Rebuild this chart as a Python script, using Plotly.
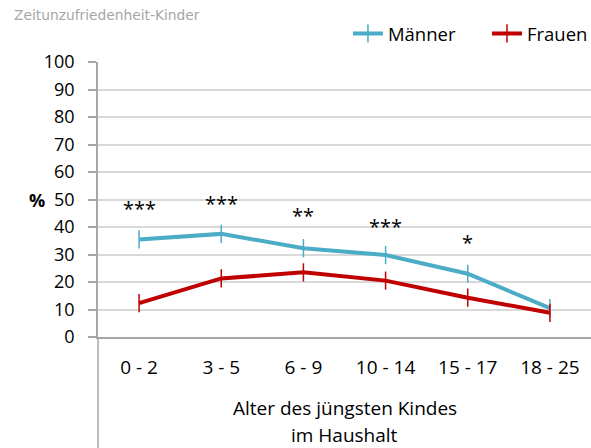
import plotly.graph_objects as go

# Daten
kategorien = ["0 - 2", "3 - 5", "6 - 9", "10 - 14", "15 - 17", "18 - 25"]
maenner = [35.5, 37.5, 32.3, 29.8, 23.0, 10.5]
frauen = [12.3, 21.3, 23.5, 20.5, 14.3, 8.8]
sterne = ["***", "***", "**", "***", "*", ""]
sterne_y = [46.7, 48.7, 44.2, 40.3, 34.5, None]
y_ticks = [0, 10, 20, 30, 40, 50, 60, 70, 80, 90, 100]

FONT = "Open Sans, Lato, sans-serif"

fig = go.Figure()
fig.add_trace(go.Scatter(
    x=kategorien, y=maenner, name="Männer", mode="lines+markers",
    line=dict(color="#4bacc6", width=4), legend="legend",
    marker=dict(symbol="line-ns-open", size=13, line=dict(color="#4bacc6", width=1.5)),
))
fig.add_trace(go.Scatter(
    x=kategorien, y=frauen, name="Frauen", mode="lines+markers",
    line=dict(color="#c00000", width=4), legend="legend2",
    marker=dict(symbol="line-ns-open", size=13, line=dict(color="#c00000", width=1.5)),
))

for k, s, y in zip(kategorien, sterne, sterne_y):
    if s:
        fig.add_annotation(x=k, y=y, text=s, showarrow=False,
                           font=dict(size=20, color="black", family=FONT))

# Achsentitel
fig.add_annotation(x=-0.144, y=50, xref="paper", yref="y", text="<b>%</b>",
                   showarrow=False, font=dict(size=18, color="black", family=FONT))
fig.add_annotation(x=0.5, y=-0.258, xref="paper", yref="paper", yanchor="middle",
                   text="Alter des jüngsten Kindes", showarrow=False,
                   font=dict(size=19, color="black", family=FONT))
fig.add_annotation(x=0.5, y=-0.358, xref="paper", yref="paper", yanchor="middle",
                   text="im Haushalt", showarrow=False,
                   font=dict(size=19, color="black", family=FONT))
fig.add_annotation(x=-0.174, y=1.171, xref="paper", yref="paper",
                   xanchor="left", yanchor="middle", text="Zeitunzufriedenheit-Kinder",
                   showarrow=False, font=dict(size=13.8, color="#a6a6a6", family="DejaVu Sans"))

# verlängerte Achsenlinie
fig.add_shape(type="line", xref="paper", yref="paper", x0=0, x1=0, y0=0, y1=-0.41,
              line=dict(color="#a6a6a6", width=1.5))

leg = dict(orientation="h", y=1.102, xanchor="left", yanchor="middle",
           font=dict(size=18.5), itemwidth=30, bgcolor="rgba(0,0,0,0)")

fig.update_layout(
    width=591, height=448,
    margin=dict(l=98, r=0, t=62, b=111, autoexpand=False),
    paper_bgcolor="white", plot_bgcolor="white",
    font=dict(family=FONT, size=18, color="black"),
    showlegend=True,
    legend=dict(leg, x=0.507),
    legend2=dict(leg, x=0.789),
    xaxis=dict(showgrid=False, showline=True, linecolor="#a6a6a6", linewidth=1.5,
               ticks="", tickfont=dict(size=19), range=[-0.5, 5.5],
               ticklabelstandoff=12, automargin=False),
    yaxis=dict(range=[0, 100], tickvals=y_ticks, showgrid=True, gridcolor="#d9d9d9",
               gridwidth=1.5, showline=True, linecolor="#a6a6a6", linewidth=1.5,
               ticks="outside", ticklen=8, tickcolor="#a6a6a6", tickwidth=1.5,
               tickfont=dict(size=18), zeroline=False, ticklabelstandoff=10,
               automargin=False),
)

fig.write_html("out.html", config={"displayModeBar": False},
               post_script="document.body.style.margin='0';")
